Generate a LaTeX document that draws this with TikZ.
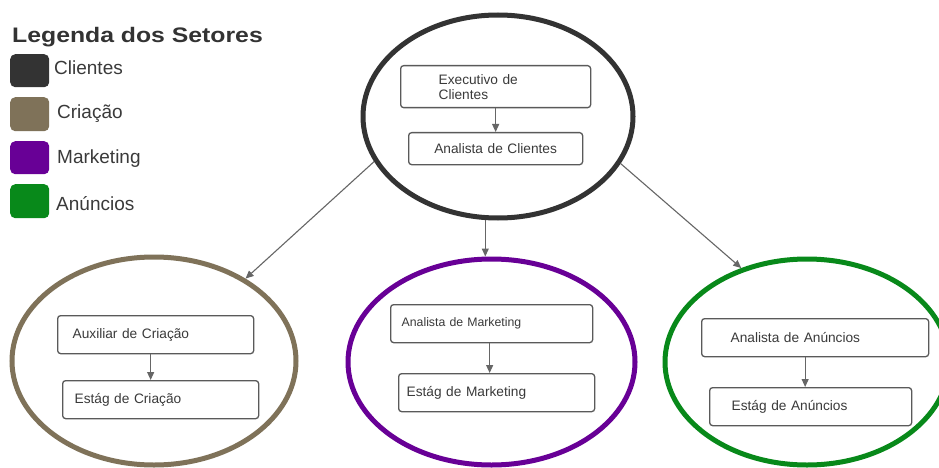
\documentclass[tikz,border=0pt]{standalone}
\usepackage{fontspec}
\setmainfont{Liberation Sans}
\newfontfamily\titlefont[FakeStretch=1.18]{Liberation Sans}
\usetikzlibrary{arrows.meta,shapes.geometric,calc}
\definecolor{cli}{HTML}{333333}
\definecolor{cri}{HTML}{7F7259}
\definecolor{mkt}{HTML}{680096}
\definecolor{anu}{HTML}{08891A}
\definecolor{txt}{HTML}{3A3A3A}
\definecolor{boxc}{HTML}{5A5A5A}
\definecolor{conn}{HTML}{666666}
\tikzset{
  sector/.style={ellipse, line width=5pt, inner sep=0pt},
  legsq/.style={rounded corners=5pt, minimum width=39pt, anchor=north west, inner sep=0pt},
  leglabel/.style={anchor=base west, inner sep=0pt, text=txt, font=\fontsize{19}{22}\selectfont},
  rolebox/.style={draw=boxc, line width=1.3pt, rounded corners=3pt, fill=white, text=txt,
    anchor=north west, inner ysep=0pt, align=left, font=\fontsize{13.7}{15}\selectfont},
  link/.style={draw=conn, line width=1.1pt, -{Triangle[length=8pt,width=7pt]}}
}
\begin{document}
\begin{tikzpicture}[x=1pt,y=-1pt]
\useasboundingbox (0,0) rectangle (939,468);
\clip (0,0) rectangle (939,468);
\fill[white] (0,0) rectangle (939,468);

% legend
\node[anchor=base west, inner sep=0pt, text=cli, font=\titlefont\bfseries\fontsize{21}{24}\selectfont] (title) at (12,42.7) {Legenda dos Setores};
\node[legsq, fill=cli, minimum height=33pt] (sqc) at (10,54) {};
\node[legsq, fill=cri, minimum height=34pt] (sqr) at (10,97) {};
\node[legsq, fill=mkt, minimum height=33pt] (sqm) at (10,141) {};
\node[legsq, fill=anu, minimum height=34pt] (sqa) at (10,184) {};
\node[leglabel] (lc) at (54,75) {Clientes};
\node[leglabel] (lr) at (57,118) {Criação};
\node[leglabel] (lm) at (57,163) {Marketing};
\node[leglabel] (la) at (56,210) {Anúncios};

% sector ellipses
\node[sector, draw=cli, minimum width=270pt, minimum height=203pt] (top) at (498,116.5) {};
\node[sector, draw=cri, minimum width=284pt, minimum height=208pt] (crel) at (154,361) {};
\node[sector, draw=mkt, minimum width=287pt, minimum height=206pt] (mkel) at (491.5,362) {};
\node[sector, draw=anu, minimum width=284pt, minimum height=206pt] (anel) at (807,362) {};

% role boxes
\node[rolebox, minimum width=190pt, minimum height=42pt, text width=114pt, inner xsep=38pt] (exec) at (400,65) {Executivo de\\Clientes};
\node[rolebox, align=center, minimum width=174pt, minimum height=32pt, text width=154pt, inner xsep=10pt] (anc) at (408,132) {Analista de Clientes};

\node[rolebox, minimum width=196pt, minimum height=38pt, text width=166pt, inner xsep=15pt] (aux) at (57,315) {Auxiliar de Criação};
\node[rolebox, minimum width=196pt, minimum height=38pt, text width=172pt, inner xsep=12pt] (ecr) at (62,380) {Estág de Criação};

\node[rolebox, font=\fontsize{12.3}{14}\selectfont, minimum width=202pt, minimum height=38pt, text width=180pt, inner xsep=11pt] (anm) at (390,304) {Analista de Marketing};
\node[rolebox, minimum width=196pt, minimum height=38pt, text width=180pt, inner xsep=8pt] (emk) at (398,373) {Estág de Marketing};

\node[rolebox, minimum width=227pt, minimum height=38pt, text width=169pt, inner xsep=29pt] (ana) at (701,318) {Analista de Anúncios};
\node[rolebox, minimum width=202pt, minimum height=38pt, text width=158pt, inner xsep=22pt] (ean) at (709,387) {Estág de Anúncios};

% inner arrows
\draw[link] (exec.south) -- (exec.south |- anc.north);
\draw[link] ([xshift=-5pt]aux.south) -- ([xshift=-5pt]aux.south |- ecr.north);
\draw[link] ([xshift=-2pt]anm.south) -- ([xshift=-2pt]anm.south |- emk.north);
\draw[link] ([xshift=-10pt]ana.south) -- ([xshift=-10pt]ana.south |- ean.north);

% sector connectors
\draw[link] (top.200) -- (crel.42);
\draw[link] (top.263) -- (top.263 |- mkel.north);
\draw[link] (top.339) -- (anel.125);
\end{tikzpicture}
\end{document}
